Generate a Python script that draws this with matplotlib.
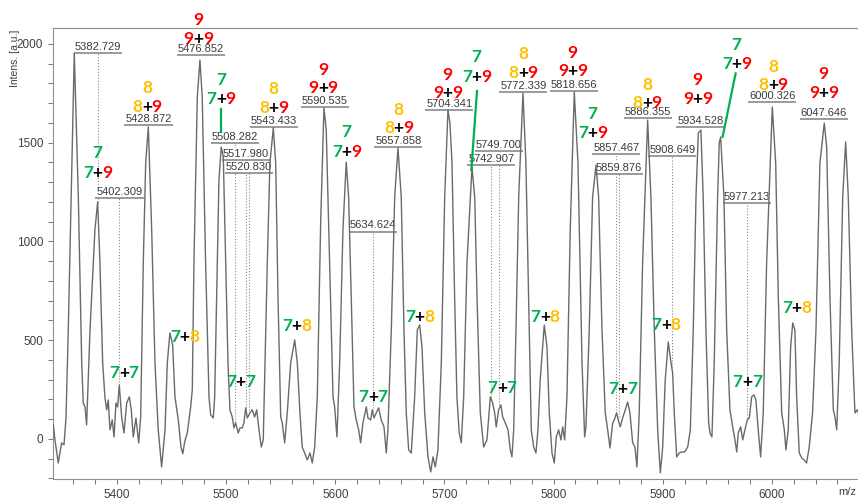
import matplotlib.pyplot as plt
from matplotlib.ticker import MultipleLocator

GREEN = '#00B050'
RED = '#FF0000'
GOLD = '#FFC000'
digit_col = {'7': GREEN, '8': GOLD, '9': RED}

# spectrum trace (m/z, intensity)
mz = [5341.7, 5343.2, 5346.2, 5349.3, 5351.5, 5353.3, 5355.4, 5360.9, 5364.6, 5367.7,
      5369.1, 5370.7, 5372.2, 5375.3, 5379.8, 5382.3, 5384.4, 5386.9, 5389.0, 5390.6,
      5392.0, 5393.6, 5395.7, 5397.3, 5399.1, 5400.6, 5402.1, 5404.3, 5406.4, 5408.9,
      5411.3, 5413.1, 5414.9, 5417.4, 5419.9, 5421.7, 5424.1, 5426.3, 5428.7, 5431.8,
      5434.8, 5437.8, 5440.9, 5444.0, 5446.1, 5448.5, 5451.0, 5453.1, 5456.2, 5458.6,
      5460.3, 5462.0, 5464.4, 5467.5, 5469.0, 5470.5, 5473.6, 5476.0, 5478.1, 5481.2,
      5484.3, 5485.8, 5488.2, 5489.5, 5491.3, 5493.4, 5495.5, 5497.4, 5499.6, 5501.7,
      5503.5, 5505.6, 5507.2, 5508.7, 5511.1, 5512.7, 5514.8, 5516.3, 5517.9, 5519.4,
      5521.8, 5523.9, 5526.1, 5528.0, 5530.1, 5532.2, 5534.0, 5535.6, 5537.7, 5540.1,
      5543.2, 5545.4, 5547.5, 5550.0, 5551.4, 5553.6, 5556.0, 5559.1, 5562.8, 5565.2,
      5567.6, 5569.7, 5571.9, 5574.3, 5576.8, 5578.9, 5581.1, 5583.5, 5586.6, 5589.6,
      5591.7, 5594.8, 5597.9, 5599.4, 5601.5, 5604.0, 5607.0, 5610.0, 5612.2, 5614.6,
      5617.1, 5619.2, 5621.4, 5623.2, 5625.3, 5628.4, 5629.9, 5632.4, 5633.9, 5635.4,
      5637.5, 5639.7, 5642.1, 5644.6, 5646.7, 5648.2, 5651.3, 5654.4, 5657.4, 5660.4,
      5662.9, 5665.0, 5667.2, 5669.6, 5672.7, 5675.1, 5677.3, 5679.4, 5681.9, 5684.9,
      5687.4, 5689.5, 5691.6, 5694.0, 5697.1, 5700.2, 5703.2, 5705.0, 5706.9, 5709.3,
      5711.4, 5713.5, 5715.4, 5717.6, 5720.6, 5725.2, 5727.7, 5729.8, 5732.8, 5735.9,
      5738.9, 5742.0, 5744.1, 5746.0, 5747.4, 5749.6, 5751.7, 5753.3, 5755.7, 5758.2,
      5760.3, 5761.8, 5763.4, 5765.5, 5768.0, 5771.9, 5774.6, 5777.1, 5779.5, 5781.7,
      5783.8, 5785.6, 5787.7, 5791.4, 5793.9, 5796.0, 5798.5, 5800.6, 5802.4, 5804.6,
      5806.7, 5808.3, 5810.1, 5812.2, 5815.2, 5818.9, 5822.3, 5826.0, 5828.4, 5829.6,
      5832.6, 5835.7, 5838.8, 5841.2, 5844.3, 5847.3, 5849.5, 5851.6, 5854.1, 5855.5,
      5857.7, 5859.2, 5861.0, 5863.2, 5865.6, 5867.8, 5869.9, 5872.4, 5874.5, 5876.3,
      5878.4, 5881.5, 5886.1, 5889.1, 5892.2, 5895.3, 5897.7, 5899.9, 5902.2, 5905.0,
      5907.5, 5909.0, 5910.5, 5912.7, 5915.1, 5917.5, 5920.0, 5922.8, 5925.2, 5927.9,
      5930.4, 5932.5, 5934.9, 5937.0, 5939.5, 5942.0, 5943.2, 5945.0, 5947.1, 5950.2,
      5951.7, 5953.0, 5956.0, 5958.5, 5961.5, 5964.0, 5966.1, 5967.7, 5969.1, 5971.3,
      5973.2, 5975.2, 5977.4, 5979.2, 5981.4, 5983.5, 5985.3, 5987.4, 5989.6, 5992.0,
      5995.1, 6000.3, 6003.4, 6005.8, 6008.9, 6011.3, 6012.8, 6014.9, 6017.1, 6019.0,
      6021.0, 6022.6, 6025.0, 6027.2, 6029.3, 6031.7, 6034.1, 6037.2, 6040.3, 6043.9,
      6047.9, 6050.1, 6053.1, 6056.2, 6057.7, 6059.3, 6061.6, 6064.8, 6067.5, 6069.9,
      6073.0, 6076.0, 6078.1, 6080.0]
intensity = [71, -5, -122, -20, -30, 106, 552, 1954, 1225, 385,
             182, 162, 71, 552, 1058, 1200, 891, 385, 208, 147,
             197, 46, 96, 10, 182, 162, 273, 111, 30, 182,
             213, 147, 10, 106, -20, 111, 891, 1397, 1580, 1058,
             385, 46, -142, 46, 385, 537, 476, 213, 96, -40,
             -75, -15, 30, 162, 248, 891, 1732, 1919, 1732, 891,
             213, 122, 106, 213, 719, 1311, 1478, 1428, 891, 385,
             147, 111, 56, 81, 30, 56, 56, 81, 157, 106,
             132, 147, 111, 147, 46, -41, -5, 385, 891, 1397,
             1575, 1397, 719, 111, 81, -20, 132, 385, 501, 385,
             132, -41, -71, -106, -71, -122, -41, 213, 1100, 1676,
             1564, 891, 213, 162, 10, 385, 1058, 1402, 1225, 719,
             162, 96, 46, -20, 81, 162, 106, 96, 147, 106,
             132, 157, 96, 61, -71, 46, 552, 1225, 1473, 1225,
             552, 132, -56, -71, 213, 552, 577, 466, 132, -91,
             -167, -91, -142, -56, 385, 1225, 1666, 1600, 1397, 719,
             213, 30, -20, 213, 891, 1377, 1225, 719, 132, -41,
             -5, 213, 182, 132, 61, 147, 172, 111, 81, 46,
             -56, -91, 46, 552, 1225, 1752, 1397, 719, 46, -41,
             -71, 46, 299, 577, 466, 132, -71, -122, 10, 46,
             -5, 61, -5, 213, 1058, 1757, 1397, 385, 10, 61,
             552, 1225, 1387, 1225, 552, 132, 46, -46, 81, 96,
             132, 96, 61, 106, 147, 187, 132, -20, -41, -142,
             132, 891, 1615, 1225, 552, 46, -172, -41, 299, 491,
             385, 334, 132, -91, -71, -66, -66, -41, 46, 552,
             1225, 1549, 1564, 1225, 552, 81, 30, 10, 385, 1225,
             1499, 1529, 1225, 552, 147, 61, -5, -66, 30, 61,
             -5, 46, 96, 106, 213, 223, 197, 46, -91, 132,
             891, 1681, 1397, 719, 132, 46, -56, 46, 466, 587,
             552, 213, -71, -96, -106, -122, -41, 132, 552, 1397,
             1600, 1478, 719, 147, 111, 46, 385, 1225, 1504, 1225,
             552, 132, 147, 120]

# peak picking labels
peak_mz = [5382.729, 5402.309, 5428.872, 5476.852, 5508.282, 5517.980, 5520.830, 5543.433,
           5590.535, 5634.624, 5657.858, 5704.341, 5742.907, 5749.700, 5772.339, 5818.656,
           5857.467, 5859.876, 5886.355, 5908.649, 5934.528, 5977.213, 6000.326, 6047.646]
label_y = [1956, 1219, 1590, 1944, 1497, 1413, 1345, 1581,
           1679, 1050, 1480, 1666, 1387, 1460, 1758, 1763,
           1443, 1342, 1624, 1433, 1578, 1196, 1708, 1619]
line_end = [1200, 273, 1590, 1944, 85, 157, 147, 1581,
            1679, 140, 1480, 1666, 213, 172, 1758, 1763,
            132, 110, 1624, 334, 1578, 106, 1708, 1619]

# upper annotations: single unit above the pair
top_x = [5382.2, 5427.5, 5474.6, 5495.2, 5543.5, 5588.8, 5610.4, 5658.0, 5703.0,
         5729.3, 5771.9, 5817.4, 5835.5, 5885.6, 5931.9, 5967.6, 6000.9, 6047.3]
top_digit = ['7', '8', '9', '7', '8', '9', '7', '8', '9',
             '7', '8', '9', '7', '8', '9', '7', '8', '9']
top_pair = ['7+9', '8+9', '9+9', '7+9', '8+9', '9+9', '7+9', '8+9', '9+9',
            '7+9', '8+9', '9+9', '7+9', '8+9', '9+9', '7+9', '8+9', '9+9']
digit_y = [1450, 1776, 2121, 1818, 1771, 1868, 1556, 1666, 1843,
           1936, 1949, 1956, 1645, 1792, 1818, 1995, 1885, 1848]
pair_y = [1348, 1679, 2025, 1720, 1674, 1776, 1452, 1573, 1753,
          1834, 1855, 1865, 1551, 1700, 1721, 1897, 1792, 1750]

# lower annotations
low_x = [5406.4, 5461.8, 5513.3, 5564.6, 5634.5, 5677.3, 5752.7, 5792.3, 5863.2, 5902.9, 5977.4, 6022.6]
low_y = [333, 514, 290, 572, 214, 616, 257, 616, 252, 577, 290, 662]
low_pair = ['7+7', '7+8', '7+7', '7+8', '7+7', '7+8', '7+7', '7+8', '7+7', '7+8', '7+7', '7+8']

# green connector lines
link_x0 = [5495.6, 5729.8, 5966.7]
link_y0 = [1671, 1762, 1851]
link_x1 = [5495.6, 5724.6, 5954.8]
link_y1 = [1556, 1362, 1530]

ANN_FONT = ['Lato', 'DejaVu Sans']


def colored(ax, x, y, s, fs=12.5):
    kw = dict(fontsize=fs, fontweight='bold', family=ANN_FONT, va='center',
              annotation_clip=False, zorder=6)
    if '+' not in s:
        ax.annotate(s, (x, y), ha='center', color=digit_col[s], **kw)
        return
    a, b = s.split('+')
    ax.annotate('+', (x, y), ha='center', color='black', **kw)
    ax.annotate(a, (x, y), xytext=(-3.3, 0), textcoords='offset points',
                ha='right', color=digit_col[a], **kw)
    ax.annotate(b, (x, y), xytext=(3.3, 0), textcoords='offset points',
                ha='left', color=digit_col[b], **kw)


fig = plt.figure(figsize=(8.58, 5.01), dpi=100)
ax = fig.add_axes([53 / 858, 22 / 501, 1 - 53 / 858, 451 / 501])

ax.plot(mz, intensity, color='#6a6a6a', lw=1.0, zorder=4)

ax.vlines(peak_mz, line_end, label_y, colors='#8a8a8a', linestyles=':', lw=0.8, zorder=1)
for m, y in zip(peak_mz, label_y):
    ax.annotate('%.3f' % m, (m, y), xytext=(0, 0.8), textcoords='offset points',
                ha='center', va='bottom', fontsize=8, family='Liberation Sans',
                color='#3a3a3a', annotation_clip=False, zorder=2,
                bbox=dict(fc='white', ec='none', pad=0.6))
ax.hlines(label_y, [m - 22 for m in peak_mz], [m + 22 for m in peak_mz],
          colors='#8a8a8a', lw=1.2, zorder=3)

for x0, y0, x1, y1 in zip(link_x0, link_y0, link_x1, link_y1):
    ax.plot([x0, x1], [y0, y1], color=GREEN, lw=1.6, zorder=5, clip_on=False)

for x, d, p, yd, yp in zip(top_x, top_digit, top_pair, digit_y, pair_y):
    colored(ax, x, yd, d)
    colored(ax, x, yp, p)
for x, y, p in zip(low_x, low_y, low_pair):
    colored(ax, x, y, p)

ax.set_xlim(5341.4, 6078.8)
ax.set_ylim(-203, 2081)
ax.xaxis.set_major_locator(MultipleLocator(100))
ax.xaxis.set_minor_locator(MultipleLocator(20))
ax.yaxis.set_major_locator(MultipleLocator(500))
ax.yaxis.set_minor_locator(MultipleLocator(100))
ax.tick_params(which='both', length=3.5, width=0.8, color='#808080',
               labelsize=8.5, labelcolor='#404040')
for lab in ax.get_xticklabels() + ax.get_yticklabels():
    lab.set_family('Liberation Sans')
for side in ['left', 'bottom', 'top']:
    ax.spines[side].set_color('#909090')
ax.spines['right'].set_visible(False)

fig.text(15 / 858, 1 - 58 / 501, 'Intens. [a.u.]', rotation=90, ha='center', va='center',
         fontsize=7.5, family='Liberation Sans', color='#404040')
fig.text(838 / 858, 1 - 492 / 501, 'm/z', ha='left', va='center',
         fontsize=8, family='Liberation Sans', color='#404040')

fig.savefig('out.png', dpi=100)
